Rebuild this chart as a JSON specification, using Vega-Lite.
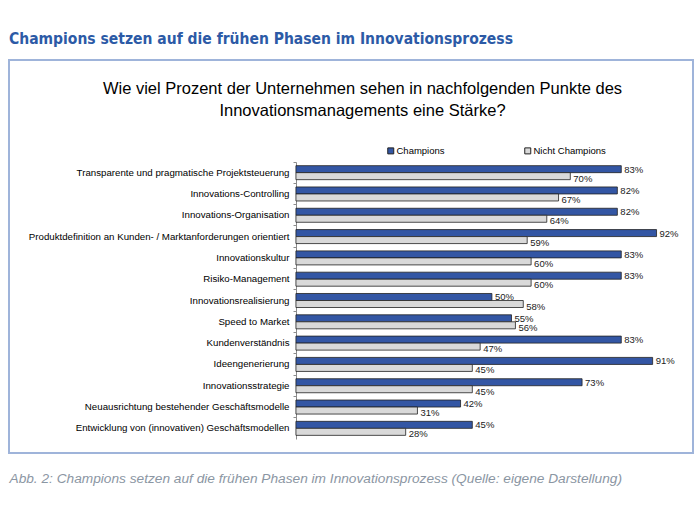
{
  "$schema": "https://vega.github.io/schema/vega-lite/v6.json",
  "autosize": {"type": "none"},
  "width": 684,
  "height": 393,
  "padding": {"left": 9, "top": 60, "right": 7, "bottom": 60},
  "background": "white",
  "title": {
    "text": "Champions setzen auf die frühen Phasen im Innovationsprozess",
    "anchor": "start",
    "frame": "group",
    "orient": "top",
    "offset": 13,
    "font": "DejaVu Sans Condensed",
    "fontSize": 15.5,
    "fontWeight": "bold",
    "color": "#2c5aa6"
  },
  "config": {
    "view": {"stroke": "#9fb4da", "strokeWidth": 2},
    "font": "Liberation Sans"
  },
  "data": {
    "values": [
      {"kategorie": "Transparente und pragmatische Projektsteuerung", "gruppe": "Champions", "anteil": 0.83},
      {"kategorie": "Transparente und pragmatische Projektsteuerung", "gruppe": "Nicht Champions", "anteil": 0.70},
      {"kategorie": "Innovations-Controlling", "gruppe": "Champions", "anteil": 0.82},
      {"kategorie": "Innovations-Controlling", "gruppe": "Nicht Champions", "anteil": 0.67},
      {"kategorie": "Innovations-Organisation", "gruppe": "Champions", "anteil": 0.82},
      {"kategorie": "Innovations-Organisation", "gruppe": "Nicht Champions", "anteil": 0.64},
      {"kategorie": "Produktdefinition an Kunden- / Marktanforderungen orientiert", "gruppe": "Champions", "anteil": 0.92},
      {"kategorie": "Produktdefinition an Kunden- / Marktanforderungen orientiert", "gruppe": "Nicht Champions", "anteil": 0.59},
      {"kategorie": "Innovationskultur", "gruppe": "Champions", "anteil": 0.83},
      {"kategorie": "Innovationskultur", "gruppe": "Nicht Champions", "anteil": 0.60},
      {"kategorie": "Risiko-Management", "gruppe": "Champions", "anteil": 0.83},
      {"kategorie": "Risiko-Management", "gruppe": "Nicht Champions", "anteil": 0.60},
      {"kategorie": "Innovationsrealisierung", "gruppe": "Champions", "anteil": 0.50},
      {"kategorie": "Innovationsrealisierung", "gruppe": "Nicht Champions", "anteil": 0.58},
      {"kategorie": "Speed to Market", "gruppe": "Champions", "anteil": 0.55},
      {"kategorie": "Speed to Market", "gruppe": "Nicht Champions", "anteil": 0.56},
      {"kategorie": "Kundenverständnis", "gruppe": "Champions", "anteil": 0.83},
      {"kategorie": "Kundenverständnis", "gruppe": "Nicht Champions", "anteil": 0.47},
      {"kategorie": "Ideengenerierung", "gruppe": "Champions", "anteil": 0.91},
      {"kategorie": "Ideengenerierung", "gruppe": "Nicht Champions", "anteil": 0.45},
      {"kategorie": "Innovationsstrategie", "gruppe": "Champions", "anteil": 0.73},
      {"kategorie": "Innovationsstrategie", "gruppe": "Nicht Champions", "anteil": 0.45},
      {"kategorie": "Neuausrichtung bestehender Geschäftsmodelle", "gruppe": "Champions", "anteil": 0.42},
      {"kategorie": "Neuausrichtung bestehender Geschäftsmodelle", "gruppe": "Nicht Champions", "anteil": 0.31},
      {"kategorie": "Entwicklung von (innovativen) Geschäftsmodellen", "gruppe": "Champions", "anteil": 0.45},
      {"kategorie": "Entwicklung von (innovativen) Geschäftsmodellen", "gruppe": "Nicht Champions", "anteil": 0.28}
    ]
  },
  "encoding": {
    "y": {
      "field": "kategorie",
      "type": "nominal",
      "sort": null,
      "scale": {"range": [102, 379], "paddingInner": 0, "paddingOuter": 0},
      "axis": {
        "title": null,
        "orient": "left",
        "offset": -287,
        "labelFont": "Liberation Sans",
        "labelFontSize": 9.7,
        "labelColor": "#000000",
        "labelPadding": 4,
        "labelLimit": 300,
        "domainColor": "#8c8c8c",
        "tickColor": "#8c8c8c",
        "tickSize": 3,
        "bandPosition": 0
      }
    },
    "yOffset": {
      "field": "gruppe",
      "type": "nominal",
      "scale": {"paddingInner": 0, "paddingOuter": 0.52}
    },
    "x": {
      "field": "anteil",
      "type": "quantitative",
      "scale": {"domain": [-0.732, 1.013], "nice": false, "zero": false}
    }
  },
  "layer": [
    {
      "mark": {"type": "bar", "stroke": "#222222", "strokeWidth": 0.8},
      "encoding": {
        "x": {
          "field": "anteil",
          "type": "quantitative",
          "axis": {
            "orient": "top",
            "offset": -58,
            "labels": false,
            "ticks": false,
            "domain": false,
            "grid": false,
            "title": ["Wie viel Prozent der Unternehmen sehen in nachfolgenden Punkte des", "Innovationsmanagements eine Stärke?"],
            "titleFont": "Liberation Sans",
            "titleFontSize": 16.5,
            "titleFontWeight": "normal",
            "titleColor": "#000000",
            "titleLineHeight": 22,
            "titlePadding": 0,
            "titleX": 353,
            "titleAlign": "center"
          }
        },
        "color": {
          "field": "gruppe",
          "type": "nominal",
          "scale": {"domain": ["Champions", "Nicht Champions"], "range": ["#3356a4", "#d9d9d9"]},
          "legend": {
            "title": null,
            "orient": "none",
            "direction": "horizontal",
            "legendX": 377,
            "legendY": 86,
            "symbolType": "square",
            "symbolSize": 36,
            "symbolStrokeColor": "#222222",
            "symbolStrokeWidth": 1,
            "labelFont": "Liberation Sans",
            "labelFontSize": 9.5,
            "labelColor": "#000000",
            "labelOffset": 1,
            "columnPadding": 77,
            "padding": 0
          }
        }
      }
    },
    {
      "transform": [{"filter": "datum.gruppe === 'Champions'"}],
      "mark": {"type": "text", "align": "left", "baseline": "middle", "dx": 3, "dy": 0.5, "fontSize": 9.5, "font": "Liberation Sans", "color": "#222222"},
      "encoding": {
        "x": {
          "field": "anteil",
          "type": "quantitative",
          "axis": {
            "orient": "bottom",
            "labels": false,
            "ticks": false,
            "domain": false,
            "grid": false,
            "title": "Abb. 2: Champions setzen auf die frühen Phasen im Innovationsprozess (Quelle: eigene Darstellung)",
            "titleFont": "Liberation Sans",
            "titleFontSize": 13.7,
            "titleFontWeight": "normal",
            "titleFontStyle": "italic",
            "titleColor": "#8b96a3",
            "titleAnchor": "start",
            "titleAlign": "left",
            "titleBaseline": "top",
            "titlePadding": 18
          }
        },
        "text": {"field": "anteil", "type": "quantitative", "format": ".0%"}
      }
    },
    {
      "transform": [{"filter": "datum.gruppe === 'Nicht Champions'"}],
      "mark": {"type": "text", "align": "left", "baseline": "middle", "dx": 3, "dy": 2.5, "fontSize": 9.5, "font": "Liberation Sans", "color": "#222222"},
      "encoding": {
        "x": {
          "field": "anteil",
          "type": "quantitative",
          "axis": null
        },
        "text": {"field": "anteil", "type": "quantitative", "format": ".0%"}
      }
    }
  ],
  "resolve": {"axis": {"x": "independent"}}
}
